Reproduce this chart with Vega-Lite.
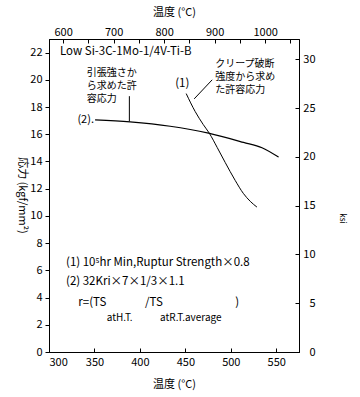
{
  "$schema": "https://vega.github.io/schema/vega-lite/v6.json",
  "width": 250,
  "height": 313,
  "autosize": {"type": "none"},
  "padding": {"left": 49, "top": 39, "right": 61, "bottom": 45},
  "background": "white",
  "config": {
    "view": {"stroke": "black", "strokeWidth": 1},
    "font": "Noto Sans CJK JP",
    "axis": {
      "domainColor": "black", "tickColor": "black", "labelColor": "black", "titleColor": "black",
      "labelFont": "Noto Sans CJK JP", "titleFont": "Noto Sans CJK JP",
      "labelFontSize": 11, "titleFontSize": 11, "titleFontWeight": "normal",
      "grid": false, "domainWidth": 1, "tickWidth": 1
    }
  },
  "datasets": {
    "creep": [
      {"T": 450.9, "s": 18.99}, {"T": 460.8, "s": 17.67}, {"T": 469.6, "s": 16.72},
      {"T": 476.5, "s": 16.06}, {"T": 485.0, "s": 15.03}, {"T": 493.8, "s": 13.93},
      {"T": 504.8, "s": 12.61}, {"T": 513.7, "s": 11.66}, {"T": 521.4, "s": 11.07},
      {"T": 528.7, "s": 10.65}
    ],
    "tensile": [
      {"T": 350.7, "s": 17.06}, {"T": 389.2, "s": 16.91}, {"T": 433.3, "s": 16.59},
      {"T": 475.4, "s": 16.08}, {"T": 514.0, "s": 15.40}, {"T": 534.3, "s": 15.01},
      {"T": 552.5, "s": 14.32}
    ],
    "leaders": [
      {"T": 388.4, "s": 18.8, "T2": 388.4, "s2": 16.95},
      {"T": 479.5, "s": 20.0, "T2": 459.7, "s2": 18.6}
    ],
    "jp": [
      {"T": 341.5, "s": 20.5, "label": "引張強さか"},
      {"T": 341.5, "s": 19.56, "label": "ら求めた許"},
      {"T": 341.5, "s": 18.62, "label": "容応力"},
      {"T": 482.8, "s": 21.14, "label": "クリープ破断"},
      {"T": 482.8, "s": 20.2, "label": "強度から求め"},
      {"T": 482.8, "s": 19.26, "label": "た許容応力"}
    ],
    "notes": [
      {"T": 312.1, "s": 22.02, "label": "Low Si-3C-1Mo-1/4V-Ti-B"},
      {"T": 438.8, "s": 19.7, "label": "(1)"},
      {"T": 318.7, "s": 6.55, "label": "(1) 10⁵hr Min,Ruptur Strength×0.8"},
      {"T": 318.7, "s": 5.15, "label": "(2) 32Kri×7×1/3×1.1"},
      {"T": 332.3, "s": 3.61, "label": "r=(TS"},
      {"T": 405.7, "s": 3.61, "label": "/TS"},
      {"T": 504.8, "s": 3.61, "label": ")"}
    ],
    "subs": [
      {"T": 363.5, "s": 2.51, "label": "atH.T."},
      {"T": 422.2, "s": 2.51, "label": "atR.T.average"}
    ],
    "tags": [
      {"T": 349.5, "s": 17.06, "label": "(2)."}
    ],
    "dual": [
      {"F": 572, "ksi": 0},
      {"F": 1067, "ksi": 32.1}
    ]
  },
  "layer": [
    {
      "data": {"name": "tensile"},
      "mark": {"type": "line", "color": "black", "strokeWidth": 1.2, "interpolate": "monotone"},
      "encoding": {
        "x": {"field": "T", "type": "quantitative", "scale": {"domain": [300, 575], "nice": false, "zero": false},
          "axis": {"orient": "bottom", "values": [300, 350, 400, 450, 500, 550], "title": "温度 (°C)",
            "tickSize": -4, "labelPadding": 8, "titleY": 32, "titleBaseline": "middle"}},
        "y": {"field": "s", "type": "quantitative", "scale": {"domain": [0, 23], "nice": false, "zero": false},
          "axis": {"orient": "left", "values": [0, 2, 4, 6, 8, 10, 12, 14, 16, 18, 20, 22], "title": "応力 (kgf/mm²)",
            "tickSize": 4, "labelPadding": 3, "titleAngle": 90, "titleX": -28, "titleY": 156, "titleAlign": "center", "titleBaseline": "middle"}}
      }
    },
    {
      "data": {"name": "creep"},
      "mark": {"type": "line", "color": "black", "strokeWidth": 1, "interpolate": "monotone"},
      "encoding": {
        "x": {"field": "T", "type": "quantitative", "scale": {"domain": [300, 575], "nice": false, "zero": false}, "axis": null},
        "y": {"field": "s", "type": "quantitative", "scale": {"domain": [0, 23], "nice": false, "zero": false}, "axis": null}
      }
    },
    {
      "data": {"name": "leaders"},
      "mark": {"type": "rule", "color": "black", "strokeWidth": 1},
      "encoding": {
        "x": {"field": "T", "type": "quantitative", "scale": {"domain": [300, 575], "nice": false, "zero": false}, "axis": null},
        "y": {"field": "s", "type": "quantitative", "scale": {"domain": [0, 23], "nice": false, "zero": false}, "axis": null},
        "x2": {"field": "T2"},
        "y2": {"field": "s2"}
      }
    },
    {
      "data": {"name": "jp"},
      "mark": {"type": "text", "align": "left", "baseline": "middle", "fontSize": 10, "color": "black", "font": "Noto Sans CJK JP"},
      "encoding": {
        "x": {"field": "T", "type": "quantitative", "scale": {"domain": [300, 575], "nice": false, "zero": false}, "axis": null},
        "y": {"field": "s", "type": "quantitative", "scale": {"domain": [0, 23], "nice": false, "zero": false}, "axis": null},
        "text": {"field": "label"}
      }
    },
    {
      "data": {"name": "notes"},
      "mark": {"type": "text", "align": "left", "baseline": "middle", "fontSize": 11.5, "color": "black", "font": "Noto Sans CJK JP"},
      "encoding": {
        "x": {"field": "T", "type": "quantitative", "scale": {"domain": [300, 575], "nice": false, "zero": false}, "axis": null},
        "y": {"field": "s", "type": "quantitative", "scale": {"domain": [0, 23], "nice": false, "zero": false}, "axis": null},
        "text": {"field": "label"}
      }
    },
    {
      "data": {"name": "subs"},
      "mark": {"type": "text", "align": "left", "baseline": "middle", "fontSize": 10, "color": "black", "font": "Noto Sans CJK JP"},
      "encoding": {
        "x": {"field": "T", "type": "quantitative", "scale": {"domain": [300, 575], "nice": false, "zero": false}, "axis": null},
        "y": {"field": "s", "type": "quantitative", "scale": {"domain": [0, 23], "nice": false, "zero": false}, "axis": null},
        "text": {"field": "label"}
      }
    },
    {
      "data": {"name": "tags"},
      "mark": {"type": "text", "align": "right", "baseline": "middle", "fontSize": 11, "color": "black", "font": "Noto Sans CJK JP"},
      "encoding": {
        "x": {"field": "T", "type": "quantitative", "scale": {"domain": [300, 575], "nice": false, "zero": false}, "axis": null},
        "y": {"field": "s", "type": "quantitative", "scale": {"domain": [0, 23], "nice": false, "zero": false}, "axis": null},
        "text": {"field": "label"}
      }
    },
    {
      "data": {"name": "dual"},
      "mark": {"type": "point", "opacity": 0},
      "encoding": {
        "x": {"field": "F", "type": "quantitative", "scale": {"domain": [572, 1067], "nice": false, "zero": false},
          "axis": {"orient": "top", "values": [600, 650, 700, 750, 800, 850, 900, 950, 1000, 1050],
            "labelExpr": "datum.value % 100 == 0 ? format(datum.value, 'd') : ''", "title": "温度 (°C)",
            "tickSize": -4, "labelPadding": 6, "titleY": -27, "titleBaseline": "middle"}},
        "y": {"field": "ksi", "type": "quantitative", "scale": {"domain": [0, 32.1], "nice": false, "zero": false},
          "axis": {"orient": "right", "values": [0, 5, 10, 15, 20, 25, 30], "title": "ksi",
            "tickSize": -4, "labelPadding": 20, "labelAlign": "right", "titleFontSize": 8,
            "titleAngle": 90, "titleX": 42, "titleY": 179, "titleAlign": "center", "titleBaseline": "middle"}}
      }
    }
  ],
  "resolve": {"scale": {"x": "independent", "y": "independent"}, "axis": {"x": "independent", "y": "independent"}}
}
